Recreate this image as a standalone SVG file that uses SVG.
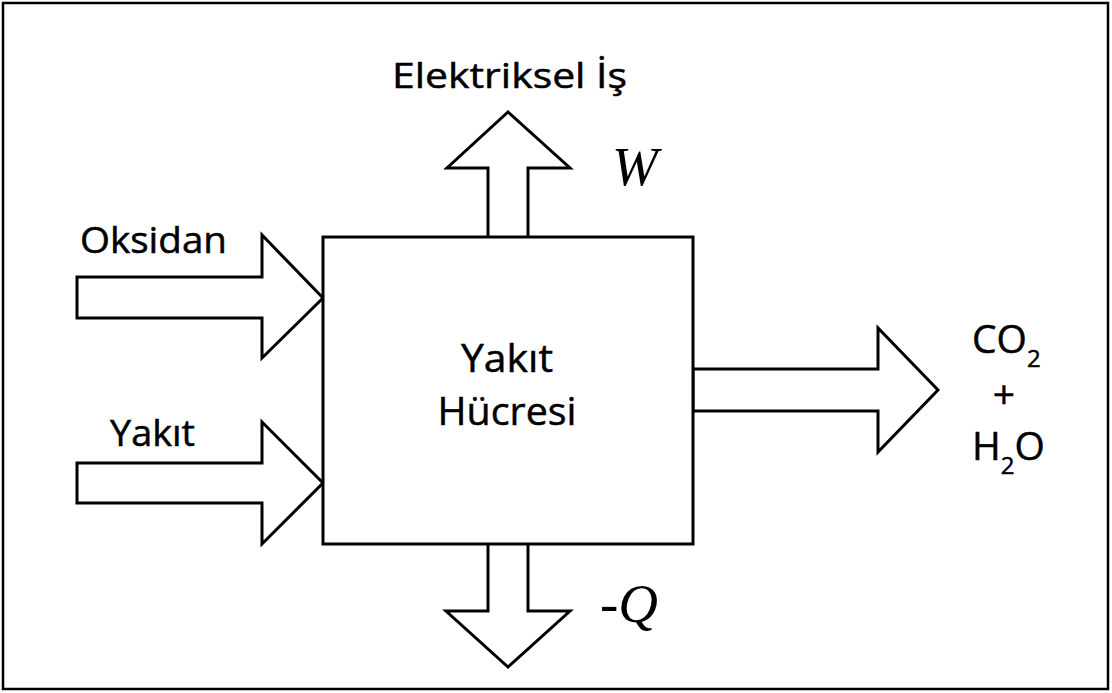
<svg xmlns="http://www.w3.org/2000/svg" width="1112" height="693" viewBox="0 0 1112 693">
<style>
.shape{fill:#fff;stroke:#000;stroke-width:3;stroke-linejoin:miter}
.lbl{font-family:"Open Sans","Noto Sans",sans-serif;fill:#000;stroke:#000;stroke-width:0.5}
.math{font-family:"Liberation Serif","DejaVu Serif",serif;font-style:italic;fill:#000}
</style>
<rect x="0" y="0" width="1112" height="693" fill="#fff"/>
<rect x="3" y="3" width="1105" height="686" fill="none" stroke="#000" stroke-width="2.5"/>
<g id="connectors">
<path id="arrow-oksidan" class="shape" d="M77 277 H262 V235 L323 298 L262 358 V318 H77 Z"/>
<path id="arrow-yakit" class="shape" d="M77 463 H262 V422 L323 483 L262 544 V503 H77 Z"/>
<path id="arrow-out" class="shape" d="M693 369 H878 V328 L938 390 L878 452 V411 H693 Z"/>
<path id="arrow-work" class="shape" d="M488 237 V168 H447 L508 112 L570 168 H528 V237"/>
<path id="arrow-heat" class="shape" d="M488 544 V611 H446 L508 667 L570 611 H528 V544"/>
</g>
<g id="node-cell">
<rect x="323" y="237" width="370" height="307" class="shape"/>
<text class="lbl" x="507" y="372" font-size="39" text-anchor="middle" textLength="92" lengthAdjust="spacingAndGlyphs">Yakıt</text>
<text class="lbl" x="507" y="425" font-size="39" text-anchor="middle" textLength="139" lengthAdjust="spacingAndGlyphs">Hücresi</text>
</g>
<g id="label-work">
<text class="lbl" x="392" y="88" font-size="35" textLength="235" lengthAdjust="spacingAndGlyphs">Elektriksel İş</text>
<text class="math" x="612" y="185" font-size="55">W</text>
</g>
<g id="label-oksidan">
<text class="lbl" x="80" y="253" font-size="36" textLength="147" lengthAdjust="spacingAndGlyphs">Oksidan</text>
</g>
<g id="label-yakit">
<text class="lbl" x="110" y="446" font-size="36" textLength="85" lengthAdjust="spacingAndGlyphs">Yakıt</text>
</g>
<g id="label-heat">
<text class="math" x="600" y="622" font-size="55">-Q</text>
</g>
<g id="label-products">
<text class="lbl" x="972" y="353" font-size="39">CO<tspan font-size="24" dy="14">2</tspan></text>
<text class="lbl" x="1004" y="408" font-size="39" text-anchor="middle">+</text>
<text class="lbl" x="972" y="460" font-size="39">H<tspan font-size="24" dy="14">2</tspan><tspan dy="-14">O</tspan></text>
</g>
</svg>
